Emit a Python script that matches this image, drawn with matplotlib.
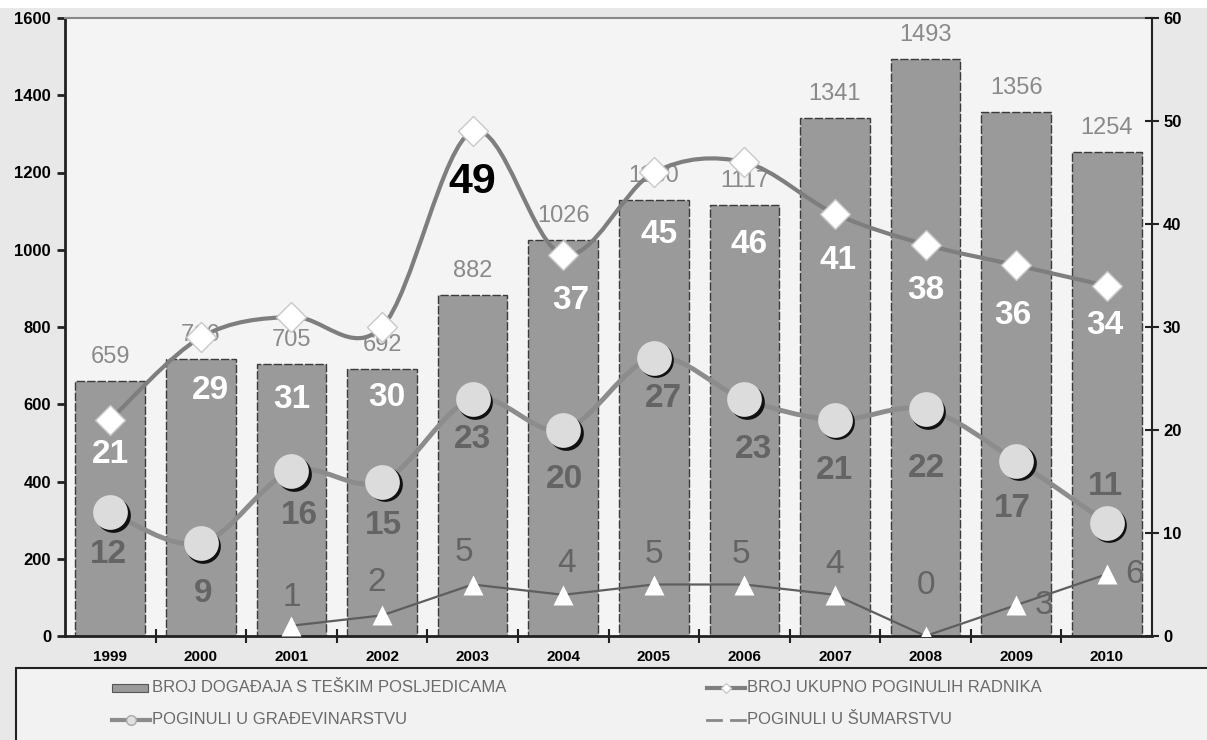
import numpy as np
import matplotlib
matplotlib.use('Agg')
import matplotlib.pyplot as plt
from matplotlib.path import Path
from matplotlib.patches import PathPatch, Rectangle
from matplotlib.lines import Line2D
import matplotlib.transforms as mtransforms

plt.rcParams['font.family'] = ['Liberation Sans', 'DejaVu Sans']

# ---- data ----
years = ['1999', '2000', '2001', '2002', '2003', '2004', '2005', '2006', '2007', '2008', '2009', '2010']
events = [659, 716, 705, 692, 882, 1026, 1130, 1117, 1341, 1493, 1356, 1254]
killed_total = [21, 29, 31, 30, 49, 37, 45, 46, 41, 38, 36, 34]
killed_constr = [12, 9, 16, 15, 23, 20, 27, 23, 21, 22, 17, 11]
killed_forest = [np.nan, np.nan, 1, 2, 5, 4, 5, 5, 4, 0, 3, 6]

# label offsets in pixels (placement only)
off_total = [(0, -35), (10, -53), (0, -83), (5, -71), (0, -51), (8, -46),
             (5, -62), (5, -82), (3, -47), (0, -46), (-3, -50), (-2, -40)]
off_constr = [(-2, -42), (2, -50), (8, -44), (1, -44), (0, -40), (1, -50),
              (10, -41), (9, -50), (-1, -51), (1, -59), (-4, -48), (-1, 36)]
off_forest = [None, None, (0, 28), (-5, 33), (-9, 32), (3, 31), (0, 30),
              (-3, 30), (0, 30), (0, 50), (28, 0), (28, 0)]

LEG = ['BROJ DOGAĐAJA S TEŠKIM POSLJEDICAMA', 'BROJ UKUPNO POGINULIH RADNIKA',
       'POGINULI U GRAĐEVINARSTVU', 'POGINULI U ŠUMARSTVU']

BARC = '#9a9a9a'
TOTC = '#7e7e7e'
CONC = '#8c8c8c'
FORC = '#5e5e5e'
LBLC = '#646464'


def smooth_path(xs, ys, t=1/6):
    pts = np.column_stack([xs, ys]).astype(float)
    n = len(pts)
    verts = [pts[0]]
    codes = [Path.MOVETO]
    for i in range(n - 1):
        p0 = pts[max(i - 1, 0)]; p1 = pts[i]; p2 = pts[i + 1]; p3 = pts[min(i + 2, n - 1)]
        verts += [p1 + (p2 - p0) * t, p2 - (p3 - p1) * t, p2]
        codes += [Path.CURVE4] * 3
    return Path(verts, codes)


fig = plt.figure(figsize=(12.07, 7.40), dpi=100, facecolor='#e8e8e8')
W, H = 1207, 740
fig.patches.append(Rectangle((0, 1 - 8 / H), 1, 8 / H, transform=fig.transFigure,
                             facecolor='white', edgecolor='none', zorder=0))

ax = fig.add_axes([65 / W, (H - 636) / H, (1152 - 65) / W, (636 - 18) / H])
ax.set_facecolor('#f4f4f4')
x = np.arange(len(years))

bars = ax.bar(x, events, width=0.77, color=BARC, edgecolor='#3a3a3a', lw=1.0,
              linestyle=(0, (6, 1.5)), zorder=2)
for xi, v in zip(x, events):
    ax.annotate(str(v), (xi, v), xytext=(0, 24), textcoords='offset pixels',
                ha='center', va='center', fontsize=17, color='#8a8a8a', zorder=3)

ax.set_xlim(-0.5, len(years) - 0.5)
ax.set_ylim(0, 1600)
ax.set_yticks(range(0, 1601, 200))
ax.set_xticks(x)
ax.set_xticklabels(years, fontsize=11, fontweight='bold')
ax.set_xticks(np.arange(0.5, len(years) - 1, 1), minor=True)
ax.tick_params(axis='x', which='major', length=0, pad=10)
ax.tick_params(axis='x', which='minor', direction='inout', length=10, width=1.5, color='#222')
ax.tick_params(axis='y', direction='out', length=6, width=2, color='#222',
               labelsize=12, pad=4)
for lab in ax.get_yticklabels():
    lab.set_fontweight('bold')
for s in ['left', 'bottom']:
    ax.spines[s].set_color('#222'); ax.spines[s].set_linewidth(2)
ax.spines['top'].set_color('#888'); ax.spines['top'].set_linewidth(1.5)
ax.spines['right'].set_visible(False)

ax2 = ax.twinx()
ax2.set_ylim(0, 60)
ax2.set_yticks(range(0, 61, 10))
ax2.tick_params(axis='y', direction='inout', length=10, width=1.5, color='#222',
                labelsize=12, pad=3)
for lab in ax2.get_yticklabels():
    lab.set_fontweight('bold')
ax2.spines['right'].set_color('#222'); ax2.spines['right'].set_linewidth(1.5)
for s in ['left', 'top', 'bottom']:
    ax2.spines[s].set_visible(False)

# total killed: smooth line + diamonds
ax2.add_patch(PathPatch(smooth_path(x, killed_total), fill=False, edgecolor=TOTC,
                        lw=3, zorder=4))
ax2.plot(x, killed_total, ls='none', marker='D', ms=15, mfc='white', mec='#c8c8c8',
         mew=1, zorder=5)

# construction: smooth line + shaded circles
ax2.add_patch(PathPatch(smooth_path(x, killed_constr), fill=False, edgecolor=CONC,
                        lw=3.5, zorder=4))
shadow = mtransforms.offset_copy(ax2.transData, fig=fig, x=2.5, y=-2.5, units='dots')
ax2.plot(x, killed_constr, ls='none', marker='o', ms=25, mfc='#111', mec='none',
         transform=shadow, zorder=5)
ax2.plot(x, killed_constr, ls='none', marker='o', ms=25, mfc='#dcdcdc', mec='none',
         zorder=6)

# forestry: straight line + triangles
ax2.plot(x, killed_forest, color=FORC, lw=1.6, zorder=4)
ax2.plot(x, killed_forest, ls='none', marker='^', ms=14, mfc='white', mec='none', zorder=5)

# labels
for xi, v, off in zip(x, killed_total, off_total):
    black = v == max(killed_total)
    ax2.annotate(str(v), (xi, v), xytext=off, textcoords='offset pixels',
                 ha='center', va='center', fontweight='bold',
                 fontsize=31 if black else 24, color='black' if black else 'white',
                 zorder=7)
for xi, v, off in zip(x, killed_constr, off_constr):
    ax2.annotate(str(v), (xi, v), xytext=off, textcoords='offset pixels',
                 ha='center', va='center', fontweight='bold', fontsize=24,
                 color=LBLC, zorder=7)
for xi, v, off in zip(x, killed_forest, off_forest):
    if off is None or np.isnan(v):
        continue
    ax2.annotate(str(int(v)), (xi, v), xytext=off, textcoords='offset pixels',
                 ha='center', va='center', fontsize=24, color=LBLC, zorder=7)

# ---- legend (drawn in pixel coords) ----
lax = fig.add_axes([0, 0, 1, 1], facecolor='none')
lax.set_xlim(0, W); lax.set_ylim(H, 0); lax.axis('off')
lax.add_patch(Rectangle((16, 668), W, 80, facecolor='#f2f2f2', edgecolor='#222', lw=1.5))
rows = [(112, 688, 'bar', LEG[0]), (707, 688, 'total', LEG[1]),
        (112, 720, 'constr', LEG[2]), (707, 720, 'forest', LEG[3])]
for hx, hy, kind, txt in rows:
    if kind == 'bar':
        lax.add_patch(Rectangle((hx, hy - 4), 36, 8, facecolor=BARC, edgecolor='#555', lw=0.8))
    elif kind == 'total':
        lax.add_line(Line2D([hx, hx + 38], [hy, hy], color=TOTC, lw=3))
        lax.plot(hx + 19, hy, marker='D', ms=5, mfc='white', mec='#ccc')
    elif kind == 'constr':
        lax.add_line(Line2D([hx, hx + 38], [hy, hy], color=CONC, lw=3))
        lax.plot(hx + 19, hy, marker='o', ms=7, mfc='#e0e0e0', mec='#aaa')
    else:
        lax.add_line(Line2D([hx, hx + 14], [hy, hy], color='#888', lw=2))
        lax.add_line(Line2D([hx + 24, hx + 38], [hy, hy], color='#888', lw=2))
    lax.text(hx + 40, hy, txt, ha='left', va='center', fontsize=12, color='#6a6a6a')

fig.savefig('out.png', dpi=100, facecolor=fig.get_facecolor())
